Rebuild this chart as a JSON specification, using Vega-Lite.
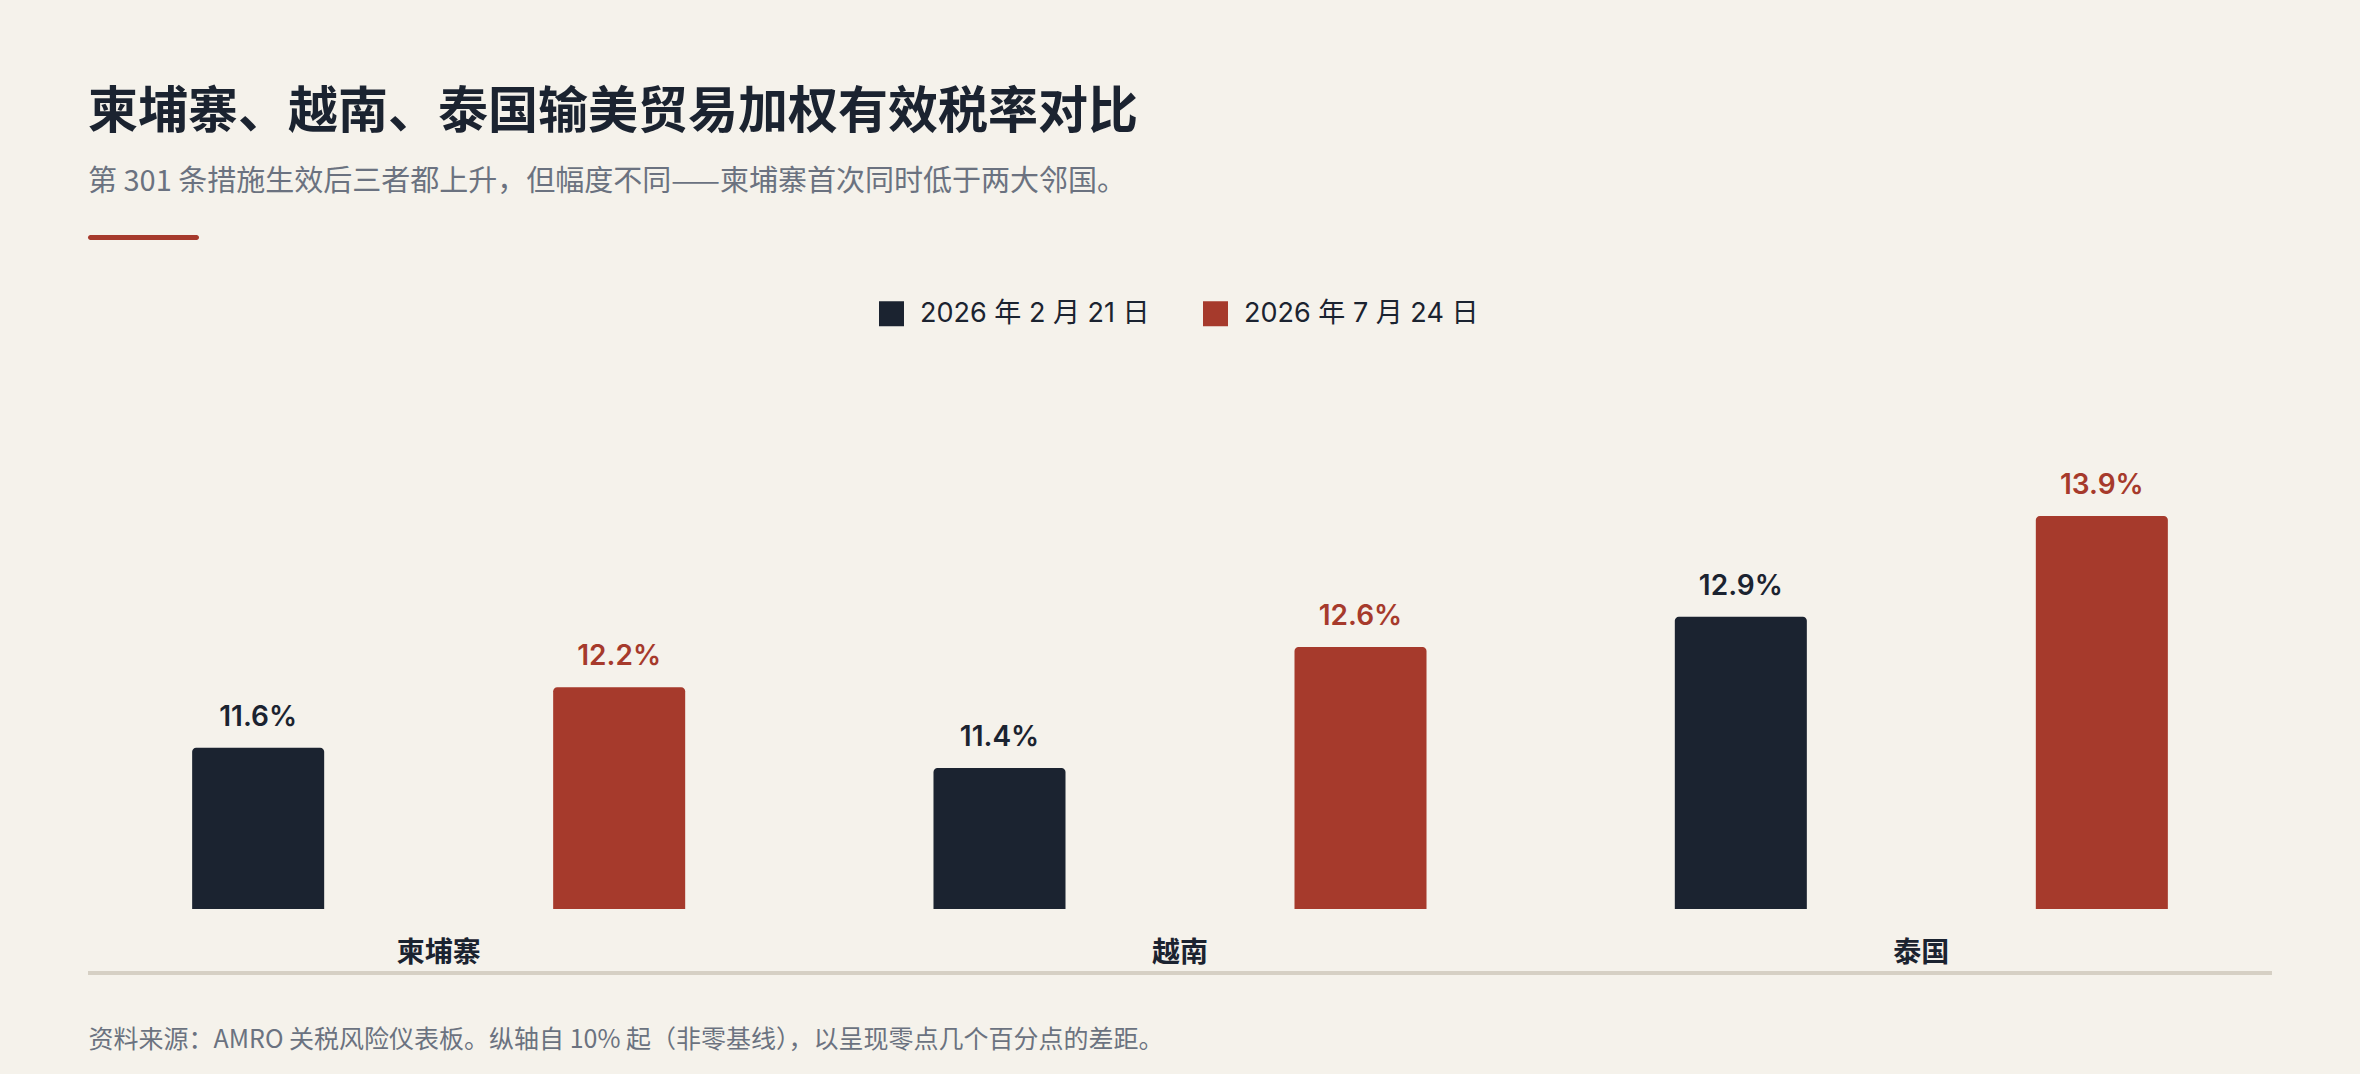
{
  "$schema": "https://vega.github.io/schema/vega-lite/v6.json",
  "background": "#f5f2eb",
  "padding": {"left": 68, "top": 88, "right": 68, "bottom": 26},
  "bounds": "flush",
  "spacing": 165,
  "title": {
    "text": "柬埔寨、越南、泰国输美贸易加权有效税率对比",
    "subtitle": "第 301 条措施生效后三者都上升，但幅度不同——柬埔寨首次同时低于两大邻国。",
    "anchor": "start",
    "dx": 20,
    "font": "Noto Sans CJK SC",
    "fontSize": 50,
    "fontWeight": "bold",
    "color": "#1b2330",
    "subtitleFont": "Noto Sans CJK SC",
    "subtitleFontSize": 29,
    "subtitleColor": "#6b7280",
    "subtitlePadding": 30,
    "offset": 38
  },
  "vconcat": [
    {
      "width": 2224,
      "height": 5,
      "data": {"values": [{"item": "accent"}]},
      "mark": {"type": "rect", "color": "#a63a2c", "cornerRadius": 2.5},
      "encoding": {
        "x": {"datum": 20, "type": "quantitative", "scale": {"domain": [0, 2224]}, "axis": null},
        "x2": {"datum": 131}
      }
    },
    {
      "spacing": 62,
      "bounds": "flush",
      "vconcat": [
        {
          "width": 2224,
          "height": 504,
          "data": {
            "values": [
              {"country": "柬埔寨", "period": "2026 年 2 月 21 日", "rate": 0.116},
              {"country": "柬埔寨", "period": "2026 年 7 月 24 日", "rate": 0.122},
              {"country": "越南", "period": "2026 年 2 月 21 日", "rate": 0.114},
              {"country": "越南", "period": "2026 年 7 月 24 日", "rate": 0.126},
              {"country": "泰国", "period": "2026 年 2 月 21 日", "rate": 0.129},
              {"country": "泰国", "period": "2026 年 7 月 24 日", "rate": 0.139}
            ]
          },
          "encoding": {
            "x": {
              "field": "country",
              "type": "nominal",
              "sort": null,
              "scale": {"paddingInner": 0, "paddingOuter": 0},
              "axis": {
                "orient": "bottom",
                "domain": false,
                "ticks": false,
                "tickSize": 0,
                "labelPadding": 30,
                "labelAngle": 0,
                "labelFont": "Noto Sans CJK SC",
                "labelFontSize": 28,
                "labelFontWeight": "bold",
                "labelColor": "#1b2330",
                "title": null
              }
            },
            "xOffset": {
              "field": "period",
              "type": "nominal",
              "scale": {"paddingInner": 0.6343, "paddingOuter": 0.3439}
            },
            "y": {
              "field": "rate",
              "type": "quantitative",
              "scale": {"domain": [0.10, 0.15], "zero": false},
              "axis": null
            },
            "color": {
              "field": "period",
              "type": "nominal",
              "scale": {"range": ["#1b2330", "#a63a2c"]},
              "legend": {
                "orient": "none",
                "legendX": 810,
                "legendY": 65,
                "direction": "horizontal",
                "title": null,
                "padding": 0,
                "symbolType": "square",
                "symbolSize": 625,
                "symbolStrokeWidth": 0,
                "symbolOpacity": 1,
                "labelFont": "Inter, Noto Sans CJK SC",
                "labelFontSize": 27,
                "labelColor": "#1b2330",
                "labelOffset": 15,
                "labelLimit": 600,
                "columnPadding": 52
              }
            }
          },
          "layer": [
            {
              "mark": {"type": "bar", "cornerRadiusTopLeft": 4, "cornerRadiusTopRight": 4},
              "encoding": {"y2": {"datum": 0.10}}
            },
            {
              "mark": {
                "type": "text",
                "baseline": "alphabetic",
                "dy": -22,
                "font": "Inter",
                "fontSize": 28,
                "fontWeight": 600
              },
              "encoding": {
                "text": {"field": "rate", "type": "quantitative", "format": ".1%"}
              }
            }
          ]
        },
        {
          "width": 2224,
          "height": 4,
          "data": {"values": [{"item": "baseline"}]},
          "mark": {"type": "rect", "color": "#d6d0c4"},
          "encoding": {
            "x": {
              "datum": 20,
              "type": "quantitative",
              "scale": {"domain": [0, 2224]},
              "axis": {
                "domain": false,
                "ticks": false,
                "labels": false,
                "grid": false,
                "title": "资料来源：AMRO 关税风险仪表板。纵轴自 10% 起（非零基线），以呈现零点几个百分点的差距。",
                "titleAnchor": "start",
                "titleAlign": "left",
                "titleX": 20,
                "titleFont": "Noto Sans CJK SC",
                "titleFontSize": 25,
                "titleFontWeight": "normal",
                "titleColor": "#6b7280",
                "titlePadding": 52
              }
            },
            "x2": {"datum": 2204}
          }
        }
      ]
    }
  ],
  "config": {
    "view": {"stroke": null},
    "font": "Noto Sans CJK SC"
  }
}
